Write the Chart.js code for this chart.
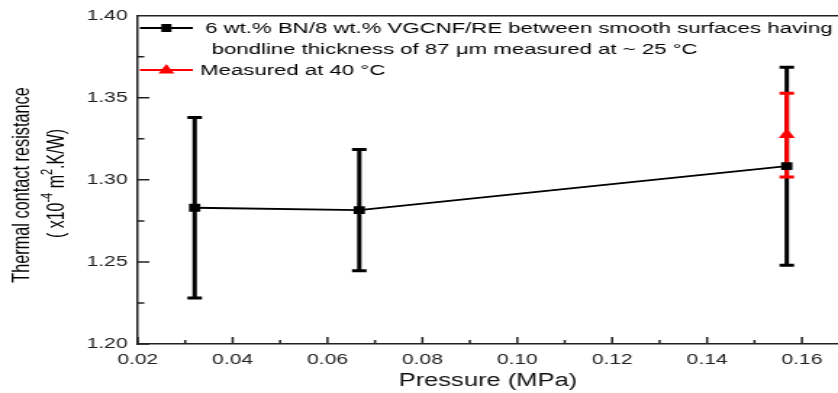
<!DOCTYPE html>
<html>
<head>
<meta charset="utf-8">
<script src="https://cdn.jsdelivr.net/npm/chart.js@4/dist/chart.umd.min.js"></script>
<style>
  html, body { margin: 0; padding: 0; background: #fff; }
  #chart { width: 838px !important; height: 393px !important; }
</style>
</head>
<body>
<canvas id="chart" width="578" height="393" style="width:838px;height:393px"></canvas>
<script>
// the source figure looks like a narrow export stretched sideways,
// so the canvas is drawn narrow and widened with css
const pressure = [0.032, 0.0667, 0.1568];
const resistance = [1.283, 1.2816, 1.3084];
const resistanceHigh = [1.338, 1.3185, 1.3686];
const resistanceLow = [1.228, 1.2446, 1.248];

const pressure40 = [0.1568];
const resistance40 = [1.3275];
const resistance40High = [1.3528];
const resistance40Low = [1.3017];

const xTicks = [0.02, 0.04, 0.06, 0.08, 0.10, 0.12, 0.14, 0.16];
const xMinorTicks = [0.03, 0.05, 0.07, 0.09, 0.11, 0.13, 0.15];
const yTicks = [1.20, 1.25, 1.30, 1.35, 1.40];
const yMinorTicks = [1.225, 1.275, 1.325, 1.375];

const legendLine1 = '6 wt.% BN/8 wt.% VGCNF/RE between smooth surfaces having';
const legendLine2 = 'bondline thickness of 87 \u03bcm measured at ~ 25 \u00b0C';
const legendRed = 'Measured at 40 \u00b0C';
const yTitle1 = 'Thermal contact resistance';

const FONT = '"Liberation Sans", Arial, sans-serif';

function drawErrorBars(ctx, xs, lo, hi, color, sx, sy) {
  ctx.strokeStyle = color;
  ctx.lineWidth = 3;
  ctx.beginPath();
  xs.forEach((v, i) => {
    const px = sx.getPixelForValue(v);
    const top = sy.getPixelForValue(hi[i]);
    const bot = sy.getPixelForValue(lo[i]);
    ctx.moveTo(px, top); ctx.lineTo(px, bot);
    ctx.moveTo(px - 5, top); ctx.lineTo(px + 5, top);
    ctx.moveTo(px - 5, bot); ctx.lineTo(px + 5, bot);
  });
  ctx.stroke();
}

const decor = {
  id: 'decor',
  beforeDatasetsDraw(chart) {
    const { ctx, chartArea: a, scales: { x, y } } = chart;
    ctx.save();
    ctx.strokeStyle = '#222';
    ctx.lineWidth = 1.5;
    ctx.beginPath();
    ctx.moveTo(a.left, a.top); ctx.lineTo(a.right, a.top);
    // ticks point into the plot
    xTicks.forEach(v => { const p = x.getPixelForValue(v); ctx.moveTo(p, a.bottom); ctx.lineTo(p, a.bottom - 7); });
    xMinorTicks.forEach(v => { const p = x.getPixelForValue(v); ctx.moveTo(p, a.bottom); ctx.lineTo(p, a.bottom - 4); });
    yTicks.forEach(v => { const p = y.getPixelForValue(v); ctx.moveTo(a.left, p); ctx.lineTo(a.left + 8, p); });
    yMinorTicks.forEach(v => { const p = y.getPixelForValue(v); ctx.moveTo(a.left, p); ctx.lineTo(a.left + 4.5, p); });
    ctx.stroke();

    drawErrorBars(ctx, pressure, resistanceLow, resistanceHigh, '#000', x, y);
    drawErrorBars(ctx, pressure40, resistance40Low, resistance40High, '#ff0000', x, y);
    ctx.restore();
  },
  afterDraw(chart) {
    const { ctx, chartArea: a } = chart;
    ctx.save();

    // legend
    const lx0 = a.left + 1.5, lx1 = a.left + 38;
    const lm = (lx0 + lx1) / 2;
    ctx.lineWidth = 2;
    ctx.strokeStyle = '#000';
    ctx.beginPath(); ctx.moveTo(lx0, 28); ctx.lineTo(lx1, 28); ctx.stroke();
    ctx.fillStyle = '#000';
    ctx.fillRect(lm - 3.5, 24, 7, 8);
    ctx.strokeStyle = '#ff0000';
    ctx.beginPath(); ctx.moveTo(lx0, 70); ctx.lineTo(lx1, 70); ctx.stroke();
    ctx.fillStyle = '#ff0000';
    ctx.beginPath(); ctx.moveTo(lm, 64); ctx.lineTo(lm + 5.5, 73.5); ctx.lineTo(lm - 5.5, 73.5); ctx.closePath(); ctx.fill();

    ctx.fillStyle = '#000';
    ctx.font = '15.3px ' + FONT;
    ctx.textBaseline = 'middle';
    ctx.textAlign = 'left';
    ctx.fillText(legendLine1, a.left + 46.5, 28.5);
    ctx.fillText(legendLine2, a.left + 51, 49.5);
    ctx.fillText(legendRed, a.left + 43, 70.5);

    // y title, second line has superscripts
    ctx.translate(15.5, 185);
    ctx.rotate(-Math.PI / 2);
    ctx.textAlign = 'center';
    ctx.font = '16.3px ' + FONT;
    ctx.fillText(yTitle1, 0, 0);
    ctx.rotate(Math.PI / 2);
    ctx.translate(-15.5, -185);

    const parts = [['( x10', false], ['-4', true], [' m', false], ['2', true], ['.K/W)', false]];
    const big = '16px ' + FONT, small = '11px ' + FONT;
    let total = 0;
    parts.forEach(([t, sup]) => { ctx.font = sup ? small : big; total += ctx.measureText(t).width; });
    ctx.translate(39.5, 183.5);
    ctx.rotate(-Math.PI / 2);
    ctx.textAlign = 'left';
    let cx = -total / 2;
    parts.forEach(([t, sup]) => {
      ctx.font = sup ? small : big;
      ctx.fillText(t, cx, sup ? -7 : 0);
      cx += ctx.measureText(t).width;
    });
    ctx.restore();
  }
};

new Chart(document.getElementById('chart'), {
  type: 'scatter',
  data: {
    datasets: [
      {
        label: '6 wt.% BN/8 wt.% VGCNF/RE',
        data: pressure.map((p, i) => ({ x: p, y: resistance[i] })),
        showLine: true,
        borderColor: '#000',
        borderWidth: 1.8,
        backgroundColor: '#000',
        pointStyle: 'rect',
        pointRadius: 5.5,
        pointBorderWidth: 0
      },
      {
        label: 'Measured at 40 °C',
        data: pressure40.map((p, i) => ({ x: p, y: resistance40[i] })),
        showLine: false,
        borderColor: '#ff0000',
        backgroundColor: '#ff0000',
        pointStyle: 'triangle',
        pointRadius: 6.5,
        pointBorderWidth: 0
      }
    ]
  },
  options: {
    responsive: false,
    devicePixelRatio: 1,
    animation: false,
    layout: { padding: { top: 15, right: 0, left: 0, bottom: 0 }, autoPadding: false },
    plugins: { legend: { display: false }, tooltip: { enabled: false } },
    scales: {
      x: {
        type: 'linear',
        min: 0.02,
        max: 0.1676,
        afterBuildTicks: s => { s.ticks = xTicks.map(v => ({ value: v })); },
        afterFit: s => { s.height = 49; },
        grid: { display: true, drawOnChartArea: false, drawTicks: false },
        border: { display: true, color: '#222', width: 1.5 },
        ticks: {
          padding: 7,
          color: '#222',
          font: { family: FONT, size: 14.5 },
          maxRotation: 0,
          callback: v => Number(v).toFixed(2)
        },
        title: {
          display: true,
          text: 'Pressure (MPa)',
          color: '#111',
          font: { family: FONT, size: 17.6 },
          padding: { top: 0, bottom: 1.5 }
        }
      },
      y: {
        min: 1.2,
        max: 1.4,
        afterBuildTicks: s => { s.ticks = yTicks.map(v => ({ value: v })); },
        afterFit: s => { s.width = 95; },
        grid: { display: true, drawOnChartArea: false, drawTicks: false },
        border: { display: true, color: '#222', width: 1.5 },
        ticks: {
          padding: 7,
          color: '#222',
          font: { family: FONT, size: 14.5 },
          callback: v => Number(v).toFixed(2)
        }
      }
    }
  },
  plugins: [decor]
});
</script>
</body>
</html>
